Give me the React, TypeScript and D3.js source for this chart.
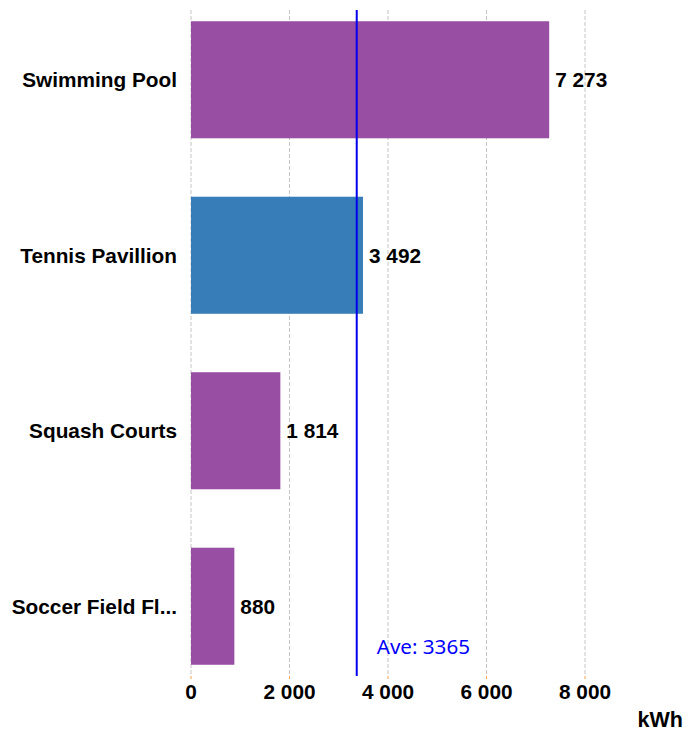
import React from "react";
import * as d3 from "d3";

const categories = ["Swimming Pool", "Tennis Pavillion", "Squash Courts", "Soccer Field Fl..."];
const values = [7273, 3492, 1814, 880];
const barColors = ["#984EA3", "#377EB8", "#984EA3", "#984EA3"];
const xTicks = [0, 2000, 4000, 6000, 8000];
const average = 3365;
const unitLabel = "kWh";

const W = 698;
const H = 732;

const fmt = (v: number) => d3.format(",")(v).replace(/,/g, " ");

export default function App() {
  const x = d3.scaleLinear().domain([0, 8000]).range([191, 585]);
  const y = d3
    .scaleBand<string>()
    .domain(categories)
    .range([10, 676])
    .paddingInner(0.333)
    .paddingOuter(0.064);
  const top = 10;
  const bottom = 679;
  const font = "'Liberation Sans', Arial, Helvetica, sans-serif";
  const fs = 20.8;
  return (
    <svg
      width={W}
      height={H}
      style={{ position: "absolute", left: 0, top: 0, background: "#fff" }}
    >
      {xTicks.map((t) => (
        <g key={t}>
          <line
            x1={x(t)}
            x2={x(t)}
            y1={top}
            y2={bottom - 3}
            stroke="#c4c4c4"
            strokeWidth={1}
            strokeDasharray="4,2"
          />
          <line x1={x(t)} x2={x(t)} y1={bottom - 3} y2={bottom} stroke="#f5a04a" strokeWidth={1} />
          <text
            x={x(t)}
            y={699}
            textAnchor="middle"
            fontFamily={font}
            fontWeight="bold"
            fontSize={fs}
            fill="#000"
          >
            {fmt(t)}
          </text>
        </g>
      ))}
      {categories.map((c, i) => (
        <g key={c}>
          <rect
            x={x(0)}
            y={y(c)!}
            width={x(values[i]) - x(0)}
            height={y.bandwidth()}
            fill={barColors[i]}
          />
          <text
            x={177}
            y={y(c)! + y.bandwidth() / 2}
            dy="0.35em"
            textAnchor="end"
            fontFamily={font}
            fontWeight="bold"
            fontSize={fs}
            fill="#000"
          >
            {c}
          </text>
          <text
            x={x(values[i]) + 6}
            y={y(c)! + y.bandwidth() / 2}
            dy="0.35em"
            textAnchor="start"
            fontFamily={font}
            fontWeight="bold"
            fontSize={fs}
            fill="#000"
          >
            {fmt(values[i])}
          </text>
        </g>
      ))}
      <line
        x1={x(average)}
        x2={x(average)}
        y1={top}
        y2={676}
        stroke="#0000ee"
        strokeWidth={2}
      />
      <text
        x={x(average) + 20}
        y={654}
        fontFamily="'Noto Sans', 'Open Sans', sans-serif"
        fontSize={20.6}
        fill="#0000ff"
      >
        {`Ave: ${average}`}
      </text>
      <text
        x={683}
        y={727}
        textAnchor="end"
        fontFamily={font}
        fontWeight="bold"
        fontSize={21.5}
        fill="#000"
      >
        {unitLabel}
      </text>
    </svg>
  );
}
